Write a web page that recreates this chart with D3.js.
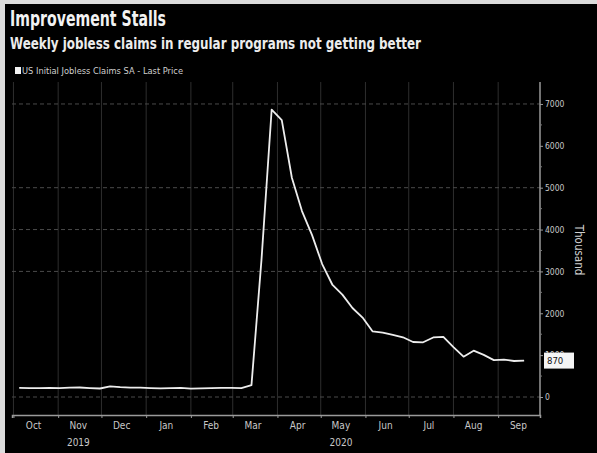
<!DOCTYPE html>
<html>
<head>
<meta charset="utf-8">
<script src="https://cdn.jsdelivr.net/npm/d3@7"></script>
<style>
  html, body { margin: 0; padding: 0; background: #dcdcdc; }
  svg { display: block; }
</style>
</head>
<body>
<div id="chart"></div>
<script>
// US initial jobless claims SA, thousands, week ending dates
const weekEnding = [
    "2019-10-05", "2019-10-12", "2019-10-19", "2019-10-26", "2019-11-02", "2019-11-09",
    "2019-11-16", "2019-11-23", "2019-11-30", "2019-12-07", "2019-12-14", "2019-12-21",
    "2019-12-28", "2020-01-04", "2020-01-11", "2020-01-18", "2020-01-25", "2020-02-01",
    "2020-02-08", "2020-02-15", "2020-02-22", "2020-02-29", "2020-03-07", "2020-03-14",
    "2020-03-21", "2020-03-28", "2020-04-04", "2020-04-11", "2020-04-18", "2020-04-25",
    "2020-05-02", "2020-05-09", "2020-05-16", "2020-05-23", "2020-05-30", "2020-06-06",
    "2020-06-13", "2020-06-20", "2020-06-27", "2020-07-04", "2020-07-11", "2020-07-18",
    "2020-07-25", "2020-08-01", "2020-08-08", "2020-08-15", "2020-08-22", "2020-08-29",
    "2020-09-05", "2020-09-12", "2020-09-19"
];
const claims = [
    220, 214, 213, 218, 211, 225, 227, 213, 203, 252, 234, 224,
    222, 214, 204, 211, 216, 202, 205, 210, 219, 216, 211, 282,
    3307, 6867, 6615, 5237, 4442, 3867, 3176, 2687, 2446, 2126, 1897, 1566,
    1540, 1482, 1427, 1314, 1307, 1422, 1435, 1191, 963, 1106, 1006, 881,
    893, 860, 870
];
const yTicks = [0, 1000, 2000, 3000, 4000, 5000, 6000, 7000];
const yMinorTicks = [500, 1500, 2500, 3500, 4500, 5500, 6500];
const gridValues = [0, 3000, 4000, 5000, 7000];
const monthLabels = ["Oct", "Nov", "Dec", "Jan", "Feb", "Mar", "Apr", "May", "Jun", "Jul", "Aug", "Sep"];
const yearLabels = [{ month: "2019-11-15", text: "2019" }, { month: "2020-05-15", text: "2020" }];

const width = 597, height = 453;
const parse = d3.timeParse("%Y-%m-%d");
const data = weekEnding.map((d, i) => ({ date: parse(d), value: claims[i] }));

const svg = d3.select("#chart").append("svg")
    .attr("width", width)
    .attr("height", height);

// gray frame on top/left, black panel
svg.append("rect").attr("width", width).attr("height", height).attr("fill", "#dcdcdc");
svg.append("rect").attr("x", 5).attr("y", 4).attr("width", width - 5).attr("height", height - 4).attr("fill", "#000");

const x = d3.scaleTime()
    .domain([parse("2019-09-30"), parse("2020-09-30")])
    .range([12, 540]);
const y = d3.scaleLinear()
    .domain([-430, 7525])
    .range([415, 82]);

const font = "'Liberation Sans Narrow', 'DejaVu Sans Condensed', 'Liberation Sans', sans-serif";

// titles
svg.append("text")
    .attr("x", 10).attr("y", 26)
    .attr("fill", "#f2f2f2")
    .attr("font-family", font)
    .attr("font-weight", 700)
    .attr("font-size", 21)
    .attr("textLength", 156)
    .attr("lengthAdjust", "spacingAndGlyphs")
    .text("Improvement Stalls");

svg.append("text")
    .attr("x", 10).attr("y", 49)
    .attr("fill", "#ececec")
    .attr("font-family", font)
    .attr("font-weight", 700)
    .attr("font-size", 15)
    .attr("textLength", 411)
    .attr("lengthAdjust", "spacingAndGlyphs")
    .text("Weekly jobless claims in regular programs not getting better");

// legend
svg.append("rect")
    .attr("x", 15).attr("y", 67).attr("width", 6).attr("height", 7)
    .attr("fill", "#f2f2f2");
svg.append("text")
    .attr("x", 22).attr("y", 74)
    .attr("fill", "#cfcfcf")
    .attr("font-family", font)
    .attr("font-size", 8.5)
    .attr("textLength", 161)
    .attr("lengthAdjust", "spacingAndGlyphs")
    .text("US Initial Jobless Claims SA - Last Price");

// vertical month gridlines
const months = x.ticks(d3.timeMonth.every(1));
svg.append("g").selectAll("line")
    .data(months)
    .join("line")
    .attr("x1", d => x(d)).attr("x2", d => x(d))
    .attr("y1", 82).attr("y2", 415)
    .attr("stroke", "#2e2e2e")
    .attr("stroke-width", 1);

// horizontal gridlines
svg.append("g").selectAll("line")
    .data(gridValues)
    .join("line")
    .attr("x1", 12).attr("x2", 540)
    .attr("y1", d => y(d)).attr("y2", d => y(d))
    .attr("stroke", "#4a4a4a")
    .attr("stroke-dasharray", "4,3")
    .attr("stroke-width", 1);

// right axis
const yAxis = d3.axisRight(y)
    .tickValues(yTicks)
    .tickSize(3)
    .tickPadding(2)
    .tickFormat(d3.format("d"));
const gy = svg.append("g")
    .attr("transform", "translate(540,0)")
    .call(yAxis);
gy.select(".domain").attr("d", "M0,82V415").attr("stroke", "#9a9a9a").attr("stroke-width", 1.5);
gy.selectAll(".tick line").attr("stroke", "#9a9a9a");
gy.selectAll(".tick text")
    .attr("fill", "#c8c8c8")
    .attr("font-family", font)
    .attr("font-size", 8.5);
svg.append("g").selectAll("line")
    .data(yMinorTicks)
    .join("line")
    .attr("x1", 540).attr("x2", 542)
    .attr("y1", d => y(d)).attr("y2", d => y(d))
    .attr("stroke", "#777");

svg.append("text")
    .attr("transform", "translate(575,250) rotate(90)")
    .attr("text-anchor", "middle")
    .attr("fill", "#cfcfcf")
    .attr("font-family", font)
    .attr("font-size", 11.5)
    .text("Thousand");

// bottom axis
const xAxis = d3.axisBottom(x)
    .tickValues(months)
    .tickSize(3)
    .tickFormat("");
const gx = svg.append("g")
    .attr("transform", "translate(0,415)")
    .call(xAxis);
gx.select(".domain").attr("stroke", "#9a9a9a").attr("stroke-width", 1.5);
gx.selectAll(".tick line").attr("stroke", "#9a9a9a");

svg.append("g").selectAll("text")
    .data(months)
    .join("text")
    .attr("x", d => x(d3.timeDay.offset(d, 14)))
    .attr("y", 429)
    .attr("text-anchor", "middle")
    .attr("fill", "#c8c8c8")
    .attr("font-family", font)
    .attr("font-size", 10)
    .text((d, i) => monthLabels[i]);

svg.append("g").selectAll("text")
    .data(yearLabels)
    .join("text")
    .attr("x", d => x(parse(d.month)))
    .attr("y", 446)
    .attr("text-anchor", "middle")
    .attr("fill", "#c8c8c8")
    .attr("font-family", font)
    .attr("font-size", 10)
    .text(d => d.text);

// the series
const line = d3.line()
    .x(d => x(d.date))
    .y(d => y(d.value));
svg.append("path")
    .datum(data)
    .attr("d", line)
    .attr("fill", "none")
    .attr("stroke", "#ededed")
    .attr("stroke-width", 1.8)
    .attr("stroke-linejoin", "round");

// last value box
const last = data[data.length - 1];
svg.append("rect")
    .attr("x", 544).attr("y", y(last.value) - 8)
    .attr("width", 30).attr("height", 16)
    .attr("fill", "#f4f4f4");
svg.append("text")
    .attr("x", 547).attr("y", y(last.value) + 3.5)
    .attr("fill", "#111")
    .attr("font-family", font)
    .attr("font-size", 9.5)
    .text(last.value);
</script>
</body>
</html>
